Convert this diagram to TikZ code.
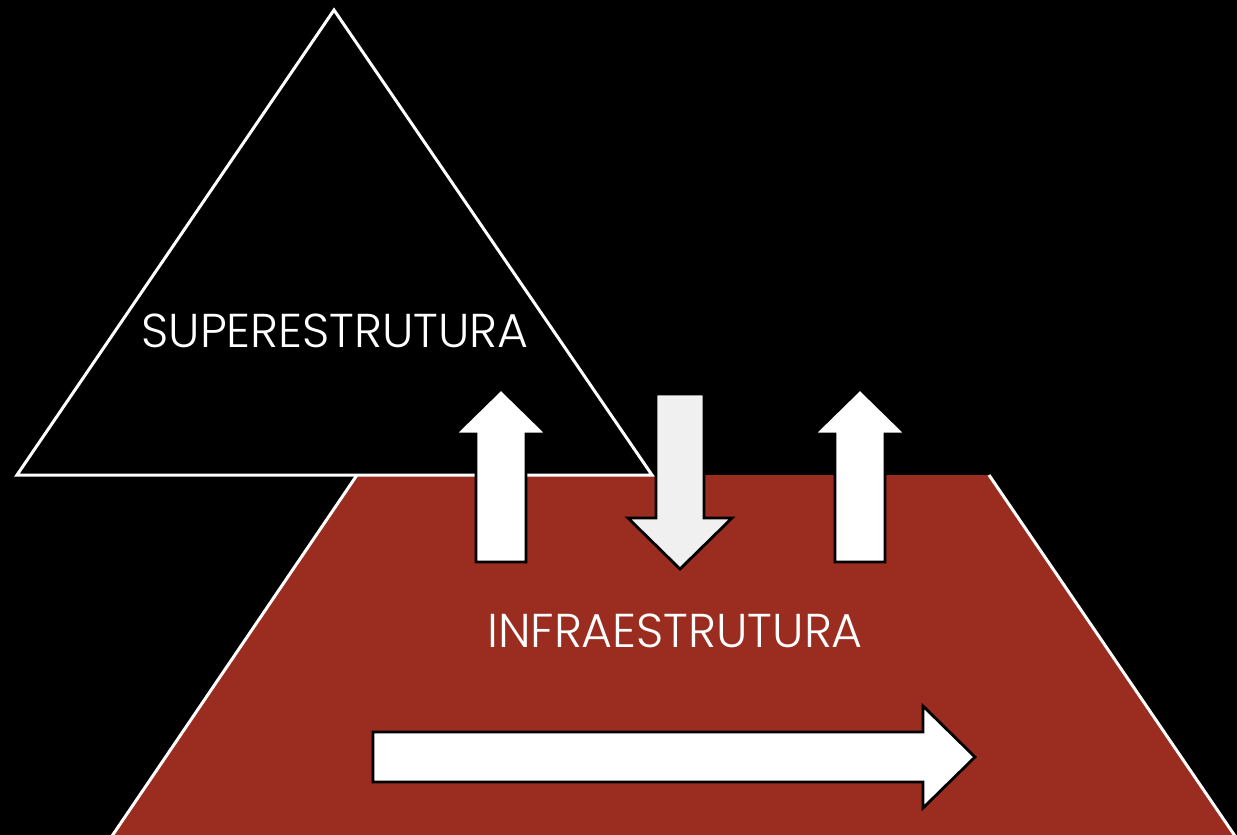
\documentclass[tikz,border=0pt]{standalone}
\usepackage{fontspec}
\setmainfont{Poppins}[UprightFont={* Light}]
\definecolor{infrared}{RGB}{155,45,32}
\definecolor{downgray}{RGB}{240,240,240}
\begin{document}
\begin{tikzpicture}[x=1pt,y=-1pt,
  arrowshape/.style={fill=white,draw=black,line width=2.8pt,line join=miter},
  lbl/.style={text=white,font=\fontsize{47.5}{47.5}\selectfont,inner sep=0pt,anchor=base}]
\useasboundingbox[fill=black] (0,0) rectangle (1237,835);
% infrastructure trapezoid
\fill[infrared] (357,475) -- (989,475) -- (1235,835) -- (112,835) -- cycle;
\draw[white,line width=3pt] (357,475) -- (112,836);
\draw[white,line width=3pt] (989,475) -- (1235,836);
% superstructure triangle
\draw[white,line width=3pt,line join=miter] (334,10) -- (652,475) -- (17,475) -- cycle;
% arrows
\draw[arrowshape] (476,562) -- (476,434) -- (455,434) -- (501,389) -- (547,434) -- (526,434) -- (526,562) -- cycle;
\draw[arrowshape,fill=downgray] (656,394) -- (704,394) -- (704,518) -- (732,518) -- (680,569) -- (628,518) -- (656,518) -- cycle;
\draw[arrowshape] (835,562) -- (835,434) -- (814,434) -- (860,389) -- (906,434) -- (885,434) -- (885,562) -- cycle;
\draw[arrowshape] (373,732) -- (923,732) -- (923,706) -- (975,757) -- (923,808) -- (923,782) -- (373,782) -- cycle;
% labels
\node[lbl] (sup) at (335,347) {SUPERESTRUTURA};
\node[lbl] (inf) at (675,647) {INFRAESTRUTURA};
\end{tikzpicture}
\end{document}
